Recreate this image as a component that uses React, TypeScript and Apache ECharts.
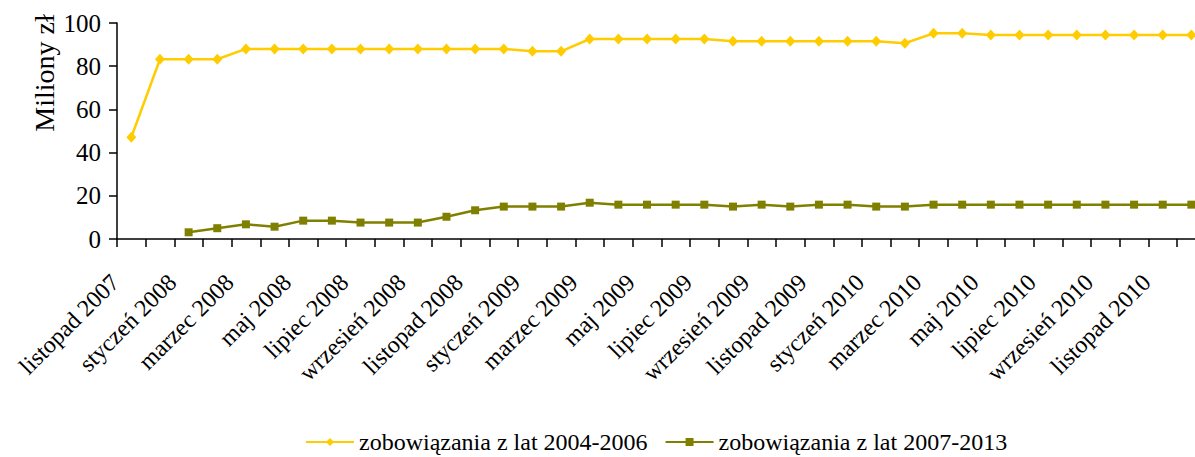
import React, { useEffect, useRef } from "react";
import * as echarts from "echarts";

const categories = [
  "listopad 2007", "grudzień 2007",
  "styczeń 2008", "luty 2008", "marzec 2008", "kwiecień 2008", "maj 2008", "czerwiec 2008",
  "lipiec 2008", "sierpień 2008", "wrzesień 2008", "październik 2008", "listopad 2008", "grudzień 2008",
  "styczeń 2009", "luty 2009", "marzec 2009", "kwiecień 2009", "maj 2009", "czerwiec 2009",
  "lipiec 2009", "sierpień 2009", "wrzesień 2009", "październik 2009", "listopad 2009", "grudzień 2009",
  "styczeń 2010", "luty 2010", "marzec 2010", "kwiecień 2010", "maj 2010", "czerwiec 2010",
  "lipiec 2010", "sierpień 2010", "wrzesień 2010", "październik 2010", "listopad 2010", "grudzień 2010",
];

const seriesNames = ["zobowiązania z lat 2004-2006", "zobowiązania z lat 2007-2013"];

const values2004 = [
  47.1, 83.2, 83.2, 83.2, 88.0, 88.0, 88.0, 88.0, 88.0, 88.0,
  88.0, 88.0, 88.0, 88.0, 86.9, 86.9, 92.6, 92.6, 92.6, 92.6,
  92.6, 91.5, 91.5, 91.5, 91.5, 91.5, 91.5, 90.6, 95.2, 95.2,
  94.4, 94.4, 94.4, 94.4, 94.4, 94.4, 94.4, 94.4,
];

const values2007: (number | null)[] = [
  null, null, 3.1, 5.0, 6.8, 5.7, 8.5, 8.5, 7.6, 7.6,
  7.6, 10.3, 13.3, 15.0, 15.0, 15.0, 16.8, 15.9, 15.9, 15.9,
  15.9, 15.0, 15.9, 15.0, 15.9, 15.9, 15.0, 15.0, 15.9, 15.9,
  15.9, 15.9, 15.9, 15.9, 15.9, 15.9, 15.9, 15.9,
];

const yMin = 0;
const yMax = 100;
const yStep = 20;
const yTitle = "Miliony zł";

const FONT = "Liberation Serif, Times New Roman, serif";

export default function App() {
  const ref = useRef<HTMLDivElement>(null);

  useEffect(() => {
    if (!ref.current) return;
    const chart = echarts.init(ref.current, undefined, { renderer: "svg" });
    chart.setOption({
      animation: false,
      backgroundColor: "#ffffff",
      textStyle: { fontFamily: FONT },
      grid: { left: 117, top: 23, width: 1088.7, height: 216, containLabel: false },
      legend: {
        left: 300,
        top: 425,
        itemWidth: 48,
        itemHeight: 10,
        itemGap: 17,
        textStyle: { fontFamily: FONT, fontSize: 24, color: "#000" },
        data: seriesNames,
      },
      xAxis: {
        type: "category",
        data: categories,
        boundaryGap: true,
        axisLine: { show: true, lineStyle: { color: "#000", width: 1.5 } },
        axisTick: { show: true, interval: 0, length: 8, lineStyle: { color: "#000", width: 1.5 } },
        axisLabel: {
          interval: 1,
          rotate: 45,
          margin: 23,
          padding: [0, 23, 0, 0],
          fontFamily: FONT,
          fontSize: 24,
          color: "#000",
        },
        splitLine: { show: false },
      },
      yAxis: {
        type: "value",
        min: yMin,
        max: yMax,
        interval: yStep,
        axisLine: { show: true, lineStyle: { color: "#000", width: 1.5 } },
        axisTick: { show: true, length: 8, lineStyle: { color: "#000", width: 1.5 } },
        axisLabel: { margin: 16, fontFamily: FONT, fontSize: 25, color: "#000" },
        splitLine: { show: false },
      },
      graphic: [
        {
          type: "text",
          x: 44,
          y: 73,
          rotation: Math.PI / 2,
          style: {
            text: yTitle,
            font: `28px ${FONT}`,
            fill: "#000",
            textAlign: "center",
            textVerticalAlign: "middle",
          },
        },
      ],
      series: [
        {
          name: seriesNames[0],
          type: "line",
          data: values2004,
          symbol: "diamond",
          symbolSize: [10, 11],
          showAllSymbol: true,
          lineStyle: { color: "#FFCC00", width: 2.5 },
          itemStyle: { color: "#FFCC00" },
        },
        {
          name: seriesNames[1],
          type: "line",
          data: values2007,
          symbol: "rect",
          symbolSize: 8,
          showAllSymbol: true,
          lineStyle: { color: "#808000", width: 2.5 },
          itemStyle: { color: "#808000" },
        },
      ],
    });
    return () => chart.dispose();
  }, []);

  return (
    <div style={{ position: "fixed", left: 0, top: 0, width: 1195, height: 457, overflow: "hidden", background: "#fff" }}>
      <div ref={ref} style={{ width: 1220, height: 457 }} />
    </div>
  );
}
